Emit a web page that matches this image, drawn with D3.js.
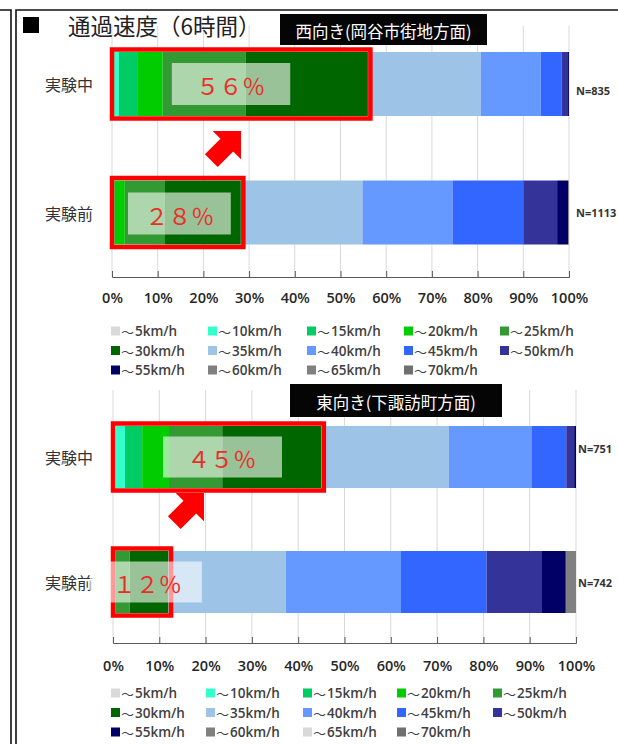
<!DOCTYPE html>
<html><head><meta charset="utf-8">
<script src="https://cdn.jsdelivr.net/npm/d3@7"></script>
<style>
html,body{margin:0;padding:0;background:#fff;}
svg{display:block;}
</style></head>
<body>
<script>
// ---------- data ----------
const categories = ["実験中", "実験前"];
const speedBins = ["～5km/h","～10km/h","～15km/h","～20km/h","～25km/h",
  "～30km/h","～35km/h","～40km/h","～45km/h","～50km/h",
  "～55km/h","～60km/h","～65km/h","～70km/h"];
const tickValues = [0,10,20,30,40,50,60,70,80,90,100];
const westDuring = [0.3,1.2,4.0,5.6,18.2,26.7,24.7,13.1,4.6,1.4,0.2,0,0,0];
const westBefore = [0,0,0.6,2.2,8.8,16.6,26.6,19.7,15.5,7.4,2.4,0.2,0,0];
const eastDuring = [0.6,2.0,3.7,5.8,11.5,21.4,27.5,18.0,7.4,1.7,0.4,0,0,0];
const eastBefore = [0,0.1,0.2,0.3,3.0,8.4,25.3,24.9,18.5,11.8,5.3,2.2,0,0];
const westN = ["N=835","N=1113"];
const eastN = ["N=751","N=742"];
const westShare = ["５６％","２８％"];
const eastShare = ["４５％","１２％"];
const lowBinCount = 6; // ～5 .. ～30km/h are highlighted
const mainTitle = "通過速度（6時間）";
const westTitle = "西向き(岡谷市街地方面)";
const eastTitle = "東向き(下諏訪町方面)";

// ---------- styles ----------
const colorsTop = ["#d9d9d9","#33ffcc","#00cc66","#00cc00","#339933","#006600",
  "#9dc3e6","#6699ff","#3366ff","#333399","#000066","#808080","#808080","#707070"];
const colorsBottom = colorsTop.map((c,i)=> i===12 ? "#d9d9d9" : c);
const JP = "'Noto Sans CJK JP','Noto Sans',sans-serif";
const LAT = "'Open Sans','Noto Sans',sans-serif";

const W = 618, H = 744;
const svg = d3.select("body").append("svg").attr("width",W).attr("height",H);

// frame
svg.append("path").attr("d","M0,10H11V744").attr("fill","none").attr("stroke","#111").attr("stroke-width",1.6);
svg.append("path").attr("d","M16,744V10H618").attr("fill","none").attr("stroke","#111").attr("stroke-width",1.6);

function stackOf(vals){
  let acc=0; return vals.map((v,i)=>{const s={i,x0:acc,x1:acc+v,v}; acc+=v; return s;});
}

function panel(cfg){
  const g = svg.append("g");
  const x = d3.scaleLinear().domain([0,100]).range(cfg.xRange);
  const y = d3.scalePoint().domain(categories).range(cfg.yCenters);
  const bh = cfg.barH;

  // gridlines
  g.append("g").selectAll("line").data(tickValues).join("line")
    .attr("x1",d=>x(d)).attr("x2",d=>x(d))
    .attr("y1",cfg.gridTop).attr("y2",cfg.axisY)
    .attr("stroke","#d9d9d9").attr("stroke-width",1);

  // axis
  const ax = d3.axisBottom(x).tickValues(tickValues).tickFormat(d=>d+"%")
    .tickSizeInner(-6).tickSizeOuter(-6).tickPadding(cfg.tickPad);
  const axg = g.append("g").attr("transform",`translate(0,${cfg.axisY})`).call(ax);
  axg.select(".domain").attr("stroke","#595959");
  axg.selectAll(".tick line").attr("stroke","#595959");
  axg.selectAll(".tick text").attr("font-family",LAT).attr("font-size",14.5)
    .attr("font-weight",600).attr("fill","#262626");

  // header box
  const hb = cfg.header;
  g.append("rect").attr("x",hb.x).attr("y",hb.y).attr("width",hb.w).attr("height",hb.h)
    .attr("fill","#050505");
  g.append("text").attr("x",hb.x+hb.w/2).attr("y",hb.y+hb.h/2+1)
    .attr("text-anchor","middle").attr("dominant-baseline","central")
    .attr("font-family",JP).attr("font-size",16.5).attr("fill","#fff").text(hb.text);

  // bars
  cfg.series.forEach((vals,ri)=>{
    const cat = categories[ri];
    const cy = y(cat);
    g.append("g").selectAll("rect").data(stackOf(vals).filter(s=>s.v>0)).join("rect")
      .attr("x",s=>x(s.x0)).attr("width",s=>x(s.x1)-x(s.x0))
      .attr("y",cy-bh/2).attr("height",bh)
      .attr("fill",s=>cfg.colors[s.i]);
    // category label
    g.append("text").attr("x",45).attr("y",cy).attr("dominant-baseline","central")
      .attr("font-family",JP).attr("font-size",16).attr("fill","#333").text(cat);
    // N label
    g.append("text").attr("x",x(100)+cfg.nDx).attr("y",cy+cfg.nDy[ri]).attr("dominant-baseline","central")
      .attr("font-family",LAT).attr("font-size",11).attr("font-weight",700).attr("fill","#333")
      .text(cfg.nLabels[ri]);
    // highlight box
    const low = d3.sum(vals.slice(0,lowBinCount));
    g.append("rect").attr("x",x(0)).attr("y",cy-bh/2-2.5)
      .attr("width",x(low)-x(0)+2.5).attr("height",bh+5)
      .attr("fill","none").attr("stroke","#ff0000").attr("stroke-width",4.5);
    // overlay + share text
    const ov = cfg.overlay[ri];
    g.append("rect").attr("x",x(ov.from)).attr("width",x(ov.to)-x(ov.from))
      .attr("y",cy-ov.h/2+ov.dy).attr("height",ov.h)
      .attr("fill","#fff").attr("fill-opacity",0.6);
    g.append("text").attr("x",x(ov.text)).attr("y",cy+ov.dy+1)
      .attr("text-anchor","middle").attr("dominant-baseline","central")
      .attr("font-family",JP).attr("font-size",23).attr("fill","#e8302b")
      .text(cfg.shares[ri]);
  });

  // arrow
  const a = cfg.arrow;
  g.append("path")
    .attr("d","M0,0L-20,-20L-20,-9L-42,-9L-42,9L-20,9L-20,20Z")
    .attr("transform",`translate(${a[0]},${a[1]}) rotate(-45)`)
    .attr("fill","#ff0000");

  // legend
  const lg = g.append("g");
  speedBins.forEach((lab,i)=>{
    const col = i%5, row = Math.floor(i/5);
    const lx = cfg.legX[col], ly = cfg.legY[row];
    lg.append("rect").attr("x",lx).attr("y",ly-4.5).attr("width",9).attr("height",9)
      .attr("fill",cfg.colors[i]);
    const t = lg.append("text").attr("x",lx+10).attr("y",ly).attr("dominant-baseline","central")
      .attr("font-family",LAT).attr("font-size",13.5).attr("fill","#404040");
    t.append("tspan").attr("font-family",JP).attr("font-size",13).text(lab.slice(0,1));
    t.append("tspan").attr("font-weight",600).attr("dx",1).text(lab.slice(1));
  });
}

// title
svg.append("rect").attr("x",23).attr("y",17).attr("width",16).attr("height",16).attr("fill","#000");

panel({
  xRange:[112,569], yCenters:[84,212.5], barH:64, gridTop:26, axisY:277, tickPad:16,
  header:{x:280,y:14,w:207,h:31,text:westTitle},
  series:[westDuring,westBefore], colors:colorsTop, nLabels:westN, nDx:7, nDy:[6,0],
  shares:westShare,
  overlay:[{from:13.1,to:39,h:42,dy:0,text:26},{from:3.5,to:26,h:42,dy:1,text:14.8}],
  arrow:[241,131],
  legX:[111,208,307,404,500], legY:[331,350.5,370]
});
panel({
  xRange:[113,576], yCenters:[457,582], barH:62, gridTop:390, axisY:643, tickPad:18,
  header:{x:290,y:384,w:212,h:33,text:eastTitle},
  series:[eastDuring,eastBefore], colors:colorsBottom, nLabels:eastN, nDx:2, nDy:[-9,0],
  shares:eastShare,
  overlay:[{from:10.8,to:36.5,h:41,dy:0,text:23.5},{from:-5,to:19.2,h:41,dy:0,text:7.4}],
  arrow:[204,493],
  legX:[111,206,303,397,493], legY:[693,712.5,732]
});

svg.append("text").attr("x",68).attr("y",25).attr("dominant-baseline","central")
  .attr("font-family",JP).attr("font-size",22.5).attr("fill","#222").text(mainTitle);
</script>
</body></html>
